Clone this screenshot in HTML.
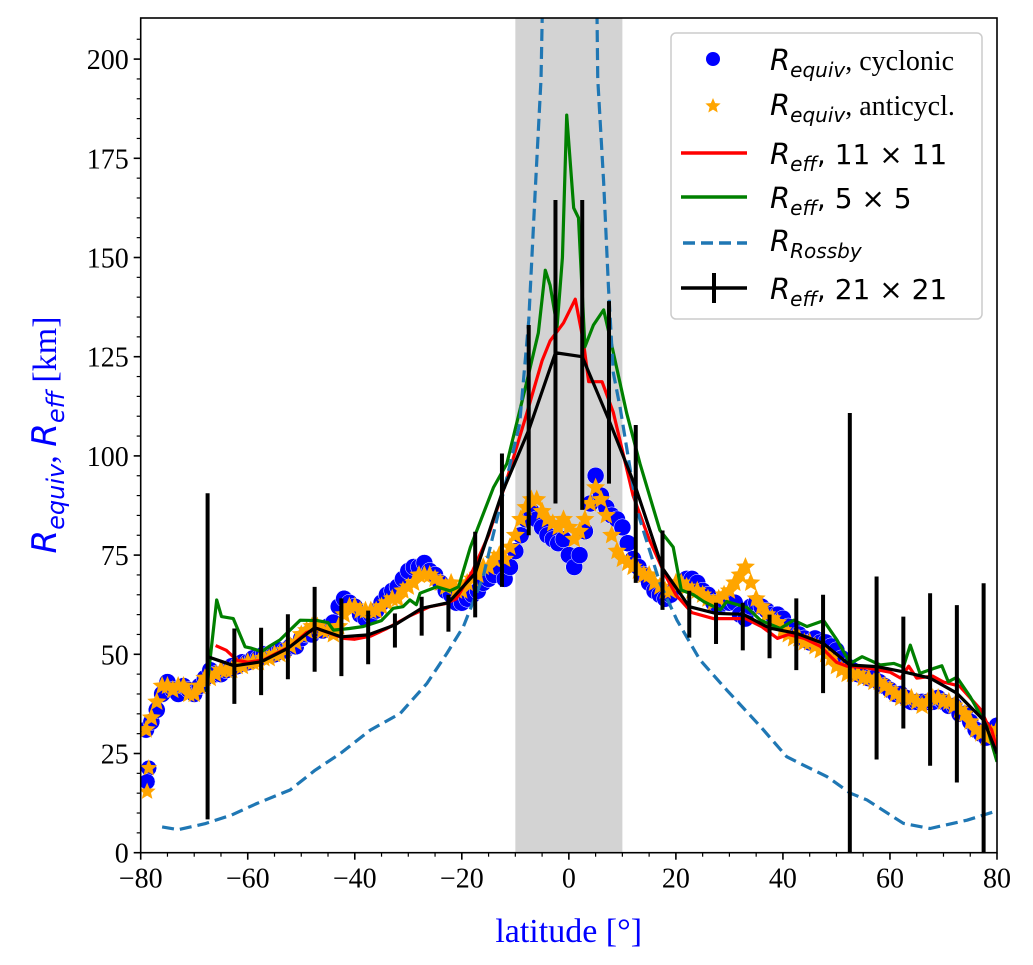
<!DOCTYPE html>
<html><head><meta charset="utf-8">
<style>
html,body{margin:0;padding:0;background:#fff;}
svg{display:block;}
.tk{font-family:"Liberation Serif",serif;font-size:28px;fill:#000;}
.math{font-family:"DejaVu Sans",sans-serif;font-style:oblique;}
.lg{font-family:"Liberation Serif",serif;font-size:28px;fill:#000;}
</style></head>
<body>
<svg id="chart" width="1033" height="965" viewBox="0 0 1033 965" xmlns="http://www.w3.org/2000/svg">
<defs><clipPath id="clip"><rect x="140.7" y="18" width="856.3" height="834.7"/></clipPath></defs>
<rect x="0" y="0" width="1033" height="965" fill="#fff"/>
<g id="plot" clip-path="url(#clip)"></g>
<rect x="140.7" y="18" width="856.3" height="834.7" fill="none" stroke="#000" stroke-width="1.6"/>
<g id="axes"></g>
<text x="568.7" y="942" text-anchor="middle" font-family="Liberation Serif, serif" font-size="34" fill="#0000ff">latitude [°]</text>
<text transform="translate(56,435) rotate(-90)" text-anchor="middle" font-size="34" fill="#0000ff"><tspan class="math">R</tspan><tspan class="math" font-size="24" dy="8">equiv</tspan><tspan font-family="Liberation Serif, serif" dy="-8">, </tspan><tspan class="math">R</tspan><tspan class="math" font-size="24" dy="8">eff</tspan><tspan font-family="Liberation Serif, serif" dy="-8"> [km]</tspan></text>
<g id="legend">
<rect x="671" y="33" width="311" height="286" rx="5" fill="#fff" fill-opacity="0.85" stroke="#cccccc" stroke-width="1.5"/>
<g>
<circle cx="713" cy="59" r="7" fill="#0000ff"/>
<text x="770" y="70" class="lg"><tspan class="math" font-size="29">R</tspan><tspan class="math" font-size="20" dy="7">equiv</tspan><tspan dy="-7">, cyclonic</tspan></text></g>
<g>
<path id="lgstar" d="" fill="#ffa500"/>
<text x="770" y="115" class="lg"><tspan class="math" font-size="29">R</tspan><tspan class="math" font-size="20" dy="7">equiv</tspan><tspan dy="-7">, anticycl.</tspan></text></g>
<g>
<line x1="681" y1="153" x2="747" y2="153" stroke="#ff0000" stroke-width="3.5"/>
<text x="770" y="164" class="lg"><tspan class="math" font-size="29">R</tspan><tspan class="math" font-size="20" dy="7">eff</tspan><tspan font-family="DejaVu Sans,sans-serif" dy="-7" font-size="28">,  11 × 11</tspan></text></g>
<g>
<line x1="681" y1="197" x2="747" y2="197" stroke="#008000" stroke-width="3.5"/>
<text x="770" y="208" class="lg"><tspan class="math" font-size="29">R</tspan><tspan class="math" font-size="20" dy="7">eff</tspan><tspan font-family="DejaVu Sans,sans-serif" dy="-7" font-size="28">,  5 × 5</tspan></text></g>
<g>
<line x1="683" y1="243" x2="747" y2="243" stroke="#1f77b4" stroke-width="3.5" stroke-dasharray="12,6"/>
<text x="770" y="251" class="lg"><tspan class="math" font-size="29">R</tspan><tspan class="math" font-size="20" dy="7">Rossby</tspan></text></g>
<g>
<line x1="681" y1="288" x2="747" y2="288" stroke="#000" stroke-width="3.5"/>
<line x1="714" y1="273" x2="714" y2="303" stroke="#000" stroke-width="4"/>
<text x="770" y="299" class="lg"><tspan class="math" font-size="29">R</tspan><tspan class="math" font-size="20" dy="7">eff</tspan><tspan font-family="DejaVu Sans,sans-serif" dy="-7" font-size="28">,  21 × 21</tspan></text></g>
</g>
</svg>
<script>
// ---- data ----
const latGrid = [];
for (let l = -79; l <= 80; l++) latGrid.push(l);
const cycVals = [31,33,36,40,43,41,40,42,41,40,42,44,46,45,45,46,47,47,48,48,49,49,50,50,50,51,51,52,52,54,55,55,56,56,57,58,62,64,63,62,60,59,60,61,63,65,66,67,69,71,72,72,73,71,70,68,66,65,63,63,64,65,66,68,69,70,72,69,72,76,80,84,86,84,82,80,79,78,79,75,72,75,81,88,95,90,87,85,84,82,78,74,72,70,68,66,65,64,65,67,68,69,69,68,66,65,63,62,63,63,63,60,59,62,63,62,61,60,60,59,57,56,55,54,53,54,53,53,52,51,49,47,46,45,45,44,44,43,42,41,40,40,39,38,38,38,38,38,39,38,37,37,35,35,33,31,30,29,31,32];
const antiVals = [31,34,38,42,42,41,42,42,40,40,42,44,44,45,46,46,46,47,47,48,48,48,49,49,50,50,51,52,53,55,56,57,57,56,56,55,57,60,62,62,61,61,61,61,62,63,64,64,66,67,68,70,70,70,69,68,67,68,66,66,68,69,70,72,72,74,75,74,77,80,84,87,89,89,86,84,83,82,84,82,79,81,84,88,92,89,85,80,76,74,73,72,71,70,70,68,67,66,66,68,68,67,66,66,65,64,63,64,65,66,68,70,72,68,64,62,60,59,58,56,55,54,54,53,53,52,51,50,49,47,46,45,45,45,44,44,43,43,42,41,40,39,39,39,38,37,38,39,39,38,38,37,36,35,33,31,30,29,30,31];
const cycExtraLat = [-78.5,-78.8];
const cycExtraVals = [21.3,17.9];
const antiExtraLat = [-78.5,-78.8];
const antiExtraVals = [21.3,15.4];

const redLat = [-66,-64,-62,-60,-57,-55,-52,-49,-47,-45,-42,-40,-37,-34,-30,-26,-23,-21,-18,-15,-11.6,-7.8,-5,-3.5,-1,1.2,2.7,3.7,6.2,8.3,12,15,18,20,23,27,30,33,36,39,41,44,47,50,52,56,60,62,63.5,65,68,70,73,75,77,78,79,80];
const redVals = [52.2,51,48.5,48,48.6,50,52,55.5,56.5,55.5,54,53.8,54.6,56.5,59.5,62,62.8,64,71,80,94,111,124,129,133.5,139.5,129,118.7,118.7,111,90,79,70,65,60.5,59,59,59,57,54,55,54,52,48,47,46.5,45.5,44,47,44,44.5,43,42,39,36,33,31,26];

const greenLat = [-67.7,-65.8,-64.9,-62.7,-60.5,-59.5,-57.4,-56.1,-54,-50.2,-47,-45,-44,-41,-38.4,-35,-32.8,-31,-29.7,-28.5,-27.8,-24.7,-22.2,-20.6,-18.4,-14.1,-11.6,-7.8,-5.7,-4.4,-3.5,-2.2,-1.2,-0.4,0.9,1.8,3.0,4.6,6.5,7.7,10.8,13.3,17,19.5,21,23.3,25.2,28.3,29.5,33.3,35.8,39.5,42,44.5,47.6,50.1,52.6,54.8,58.2,60.7,62.5,63.8,65.6,68.1,69.7,70.9,72.5,75,78.1,80];
const greenVals = [40.6,63.7,59.5,59,51.9,51.6,50.7,51.9,53.6,58.6,58.5,58,56.1,56.5,57,58.5,61.6,62,63.7,62.5,65.4,67,66,67,77,92,98,119,131,146.8,143,132.6,150,185.9,162.5,160,127.5,133,136.8,129.8,110.8,98,81.3,77,66.2,65,63.3,61.2,63.3,61.8,58.6,56.5,58.6,57,58.5,53.6,47.7,49.4,47.3,47.7,46.8,52.3,45.2,46.4,47.1,43.1,44.2,39.3,31.8,22.9];

const rossbyLat = [-76,-73,-68,-63,-58.3,-52.1,-47.4,-42.7,-37.1,-31.5,-26.5,-22.8,-19.7,-16,-12.2,-9.2,-7.5,-6.2,-5.2,-4.7,5.1,5.4,6.5,7.4,8.3,9.6,12.7,17,20.2,24.5,29.5,35.8,40.7,43.2,48.2,52.6,55.7,62.5,67.5,74.4,79.4];
const rossbyVals = [6.5,5.8,7.3,9.5,12.4,15.8,20.8,25,30.9,35.1,42.7,50.2,57,69.6,91,108,134,169,195,230,230,195,169,142.6,121,112,86.4,68,58.6,48.6,41,31.8,24.2,22.5,19.2,15,13.3,7.4,6.1,8.2,10.3];

const blackLat = [-67.5,-62.5,-57.5,-52.5,-47.5,-42.5,-37.5,-32.5,-27.5,-22.5,-17.5,-12.5,-7.5,-2.5,2.5,7.5,12.5,17.5,22.5,27.5,32.5,37.5,42.5,47.5,52.5,57.5,62.5,67.5,72.5,77.5];
const blackVals = [49.4,47.1,48.1,51.5,56.7,54.4,54.9,57.4,61.6,63,70.4,90.6,106.5,126,125,109,92,71.7,62,60.3,60.1,56.6,55.3,52.8,47.3,46.9,45.6,44,40.2,33.4];
const blackLow = [8.4,37.5,39.7,43.7,45.6,44.5,47.5,51.7,54.7,55.7,59.3,67,80,88,86.4,93,68,61.2,54.2,52.6,51,49,46,40.2,0,23.5,31.3,21.9,17.7,0];
const blackHigh = [90.6,56.5,56.7,60.1,67,64.1,61,60.3,64.5,65,80.9,100.6,133,164.5,164.5,139,107.8,81.2,66,63,63,60,64.1,65,110.8,69.6,59.5,65.4,62.4,67.9];
const blackEndLat = [80];
const blackEndVals = [25];

const xTicks = [-80,-60,-40,-20,0,20,40,60,80];
const xTickLabels = ['−80','−60','−40','−20','0','20','40','60','80'];
const yTicks = [0,25,50,75,100,125,150,175,200];
const yTickLabels = ['0','25','50','75','100','125','150','175','200'];
const shadeRange = [-10,10];

// ---- axes functions ----
const NS = 'http://www.w3.org/2000/svg';
const X0 = 140.7, X1 = 997.0, Y0 = 852.7;
function sx(lat){ return X0 + (lat + 80) * (X1 - X0) / 160; }
function sy(v){ return Y0 - v * 3.968; }
function mk(tag, attrs, parent){ const e = document.createElementNS(NS, tag); for (const k in attrs) e.setAttribute(k, attrs[k]); parent.appendChild(e); return e; }
function starPath(cx, cy, R){
  const r = R * 0.45; let d = '';
  for (let i = 0; i < 10; i++){
    const a = -Math.PI/2 + i * Math.PI/5; const rr = i % 2 ? r : R;
    d += (i ? 'L' : 'M') + (cx + rr*Math.cos(a)).toFixed(2) + ' ' + (cy + rr*Math.sin(a)).toFixed(2);
  }
  return d + 'Z';
}
const plot = document.getElementById('plot');
const axes = document.getElementById('axes');
document.getElementById('lgstar').setAttribute('d', starPath(713, 106, 8));

// shading
const band = mk('rect', {x: sx(shadeRange[0]), y: 18, width: sx(shadeRange[1]) - sx(shadeRange[0]), height: Y0 - 18, fill: '#d3d3d3'}, plot);



// scatter cyclonic
const gC = mk('g', {fill: '#0000ff', stroke: '#ffffff', 'stroke-width': 0.5}, plot);


latGrid.forEach((l, i) => { mk('circle', {cx: sx(l), cy: sy(cycVals[i]), r: 8.5}, gC); });
cycExtraLat.forEach((l, i) => { mk('circle', {cx: sx(l), cy: sy(cycExtraVals[i]), r: 8}, gC); });
// scatter anticyclonic
const gA = mk('g', {fill: '#ffa500'}, plot);


latGrid.forEach((l, i) => { mk('path', {d: starPath(sx(l), sy(antiVals[i]), 10)}, gA); });
antiExtraLat.forEach((l, i) => { mk('path', {d: starPath(sx(l), sy(antiExtraVals[i]), 9)}, gA); });

function poly(lats, vals, color, extra){
  const pts = lats.map((l, i) => sx(l).toFixed(2) + ',' + sy(vals[i]).toFixed(2)).join(' ');
  const a = {points: pts, fill: 'none', stroke: color, 'stroke-width': 3.2, 'stroke-linejoin': 'round'};
  Object.assign(a, extra || {});
  return mk('polyline', a, plot);
}
const rl = poly(redLat, redVals, '#ff0000');


const gl = poly(greenLat, greenVals, '#008000');


const bl1 = poly(rossbyLat.slice(0, 20), rossbyVals.slice(0, 20), '#1f77b4', {'stroke-dasharray': '12,6'});


const bl2 = poly(rossbyLat.slice(20), rossbyVals.slice(20), '#1f77b4', {'stroke-dasharray': '12,6'});


// black errorbars
blackLat.forEach((l, i) => {
  const e = mk('line', {x1: sx(l), x2: sx(l), y1: sy(blackLow[i]), y2: sy(blackHigh[i]), stroke: '#000', 'stroke-width': 4}, plot);
  
  
});
const kl = poly(blackLat.concat(blackEndLat), blackVals.concat(blackEndVals), '#000');



// ticks
xTicks.forEach((t, i) => {
  mk('line', {x1: sx(t), x2: sx(t), y1: Y0, y2: Y0 + 7, stroke: '#000', 'stroke-width': 1.6}, axes);
  const tx = mk('text', {x: sx(t), y: Y0 + 35, 'text-anchor': 'middle', class: 'tk'}, axes);
  tx.textContent = xTickLabels[i];
  
  
});
for (let t = -75; t < 80; t += 5) { if (t % 20) mk('line', {x1: sx(t), x2: sx(t), y1: Y0, y2: Y0 + 4, stroke: '#000', 'stroke-width': 1.2}, axes); }
yTicks.forEach((t, i) => {
  mk('line', {x1: X0 - 7, x2: X0, y1: sy(t), y2: sy(t), stroke: '#000', 'stroke-width': 1.6}, axes);
  const tx = mk('text', {x: X0 - 12, y: sy(t) + 10, 'text-anchor': 'end', class: 'tk'}, axes);
  tx.textContent = yTickLabels[i];
  
  
});
for (let t = 5; t <= 205; t += 5) { if (t % 25) mk('line', {x1: X0 - 4, x2: X0, y1: sy(t), y2: sy(t), stroke: '#000', 'stroke-width': 1.2}, axes); }
</script>
</body></html>
